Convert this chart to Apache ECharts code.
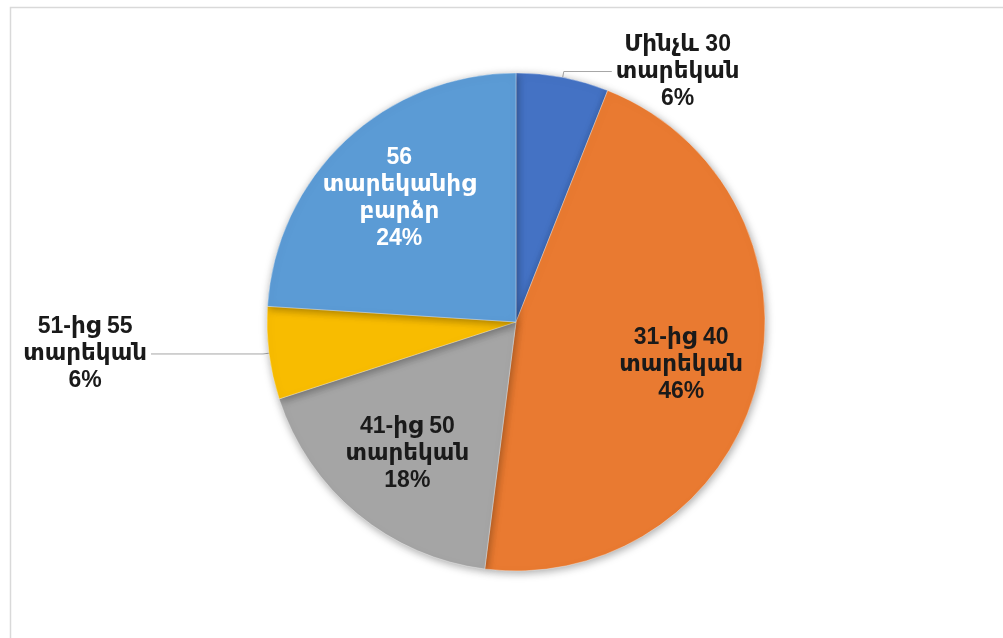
<!DOCTYPE html>
<html>
<head>
<meta charset="utf-8">
<script src="https://cdn.jsdelivr.net/npm/echarts@6/dist/echarts.min.js"></script>
<style>
html,body{margin:0;padding:0;background:#fff;}
#chart{width:1003px;height:638px;}
</style>
</head>
<body>
<div id="chart"></div>
<script>
const categories = ['Մինչև 30\nտարեկան', '31-ից 40\nտարեկան', '41-ից 50\nտարեկան', '51-ից 55\nտարեկան', '56\nտարեկանից\nբարձր'];
const values = [6, 46, 18, 6, 24];
const colors = ['#4472C4', '#E97A31', '#A5A5A5', '#F8BC00', '#5B9BD5'];
const outsideLabel = [true, false, false, true, false];
const labelColors = ['#1a1a1a', '#1a1a1a', '#1a1a1a', '#1a1a1a', '#ffffff'];
const leaderLength2 = [48, 0, 0, 112, 0];

const FONT = '"Liberation Sans", "DejaVu Sans", Arial, sans-serif';
const FS = 23, LH = 27;

function centeredRich(name, pct) {
  const lines = name.split('\n').concat([pct + '%']);
  return lines.map(l => '{c|' + l + '}').join('\n');
}

const mainData = categories.map((c, i) => ({
  name: c,
  value: values[i],
  itemStyle: { color: colors[i] },
  label: { show: outsideLabel[i] },
  labelLine: { show: outsideLabel[i], length2: leaderLength2[i] }
}));

const innerData = categories.map((c, i) => ({
  name: c,
  value: values[i],
  label: {
    show: !outsideLabel[i],
    rich: { c: { align: 'center', color: labelColors[i], fontSize: FS, fontWeight: 'bold', fontFamily: FONT, lineHeight: LH } }
  }
}));

const chart = echarts.init(document.getElementById('chart'), null, { renderer: 'canvas' });
chart.setOption({
  backgroundColor: '#ffffff',
  animation: false,
  graphic: [
    { type: 'polyline', silent: true, shape: { points: [[10.5, 638], [10.5, 7.5], [1003, 7.5]] },
      style: { stroke: '#D9D9D9', lineWidth: 1.5, fill: null } }
  ],
  series: [
    {
      type: 'pie',
      center: [516, 322],
      radius: [0, 249],
      startAngle: 90,
      clockwise: true,
      silent: true,
      data: mainData,
      itemStyle: {
        borderColor: 'rgba(255,255,255,0.35)',
        borderWidth: 1,
        shadowBlur: 8,
        shadowColor: 'rgba(0,0,0,0.35)',
        shadowOffsetX: 1,
        shadowOffsetY: 2
      },
      label: {
        position: 'outside',
        formatter: p => centeredRich(p.name, p.value),
        rich: { c: { align: 'center', color: '#1a1a1a', fontSize: FS, fontWeight: 'bold', fontFamily: FONT, lineHeight: LH } },
        distanceToLabelLine: 4
      },
      labelLine: {
        length: 6,
        lineStyle: { color: '#A6A6A6', width: 1 }
      },
      emphasis: { disabled: true }
    },
    {
      type: 'pie',
      center: [516, 322],
      radius: [86, 249],
      startAngle: 90,
      clockwise: true,
      silent: true,
      data: innerData,
      itemStyle: { color: 'rgba(0,0,0,0)' },
      label: {
        position: 'inside',
        formatter: p => centeredRich(p.name, p.value)
      },
      labelLine: { show: false },
      emphasis: { disabled: true }
    }
  ]
});
</script>
</body>
</html>
